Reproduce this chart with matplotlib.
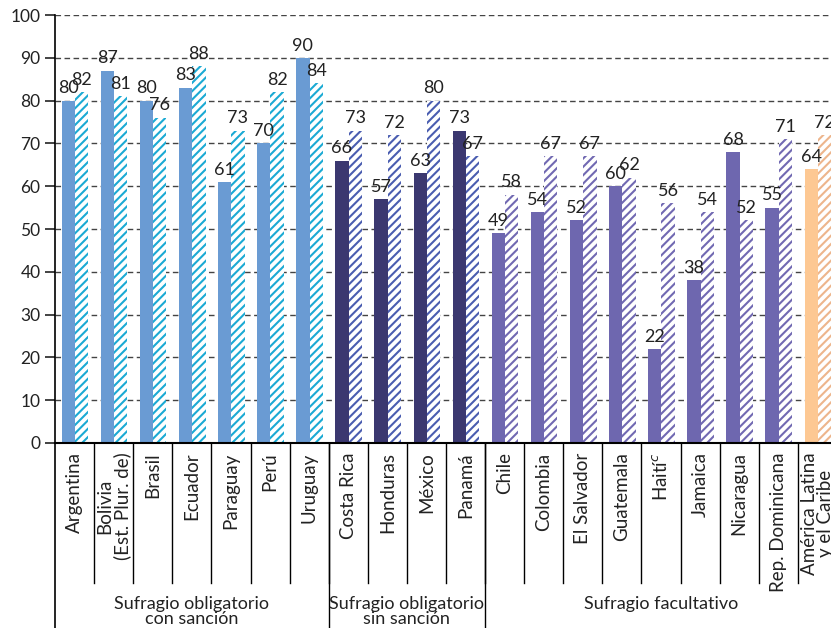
import matplotlib
matplotlib.use("Agg")
import matplotlib.pyplot as plt

plt.rcParams['font.family'] = ['Lato', 'DejaVu Sans']
plt.rcParams['hatch.linewidth'] = 1.5

categories = [
    "Argentina", "Bolivia\n(Est. Plur. de)", "Brasil", "Ecuador", "Paraguay",
    "Perú", "Uruguay", "Costa Rica", "Honduras", "México", "Panamá",
    "Chile", "Colombia", "El Salvador", "Guatemala", "Haití$^{c}$",
    "Jamaica", "Nicaragua", "Rep. Dominicana", "América Latina\ny el Caribe",
]
serie_1 = [80, 87, 80, 83, 61, 70, 90, 66, 57, 63, 73,
           49, 54, 52, 60, 22, 38, 68, 55, 64]
serie_2 = [82, 81, 76, 88, 73, 82, 84, 73, 72, 80, 67,
           58, 67, 67, 62, 56, 54, 52, 71, 72]
# color group of each category: 0 = con sanción, 1 = sin sanción, 2 = facultativo, 3 = region
color_group = [0] * 7 + [1] * 4 + [2] * 8 + [3]

groups = [
    ("Sufragio obligatorio\ncon sanción", 0, 7),
    ("Sufragio obligatorio\nsin sanción", 7, 11),
    ("Sufragio facultativo", 11, 20),
]

solid_colors = ['#6A9BD3', '#3B3870', '#6E67AF', '#FDC893']
hatch_colors = ['#1BAAD4', '#4A5DB0', '#7169B2', '#EDB58C']

fig = plt.figure(figsize=(8.31, 6.28), dpi=100)
ax = fig.add_axes([0.0662, 0.2946, 0.941, 0.6815])

w = 0.34
for i in range(len(categories)):
    g = color_group[i]
    ax.bar(i - 0.16, serie_1[i], width=w, color=solid_colors[g], zorder=2)
    ax.bar(i + 0.18, serie_2[i], width=w, facecolor='white',
           edgecolor=hatch_colors[g], linewidth=0, hatch='////', zorder=2)
    ax.text(i - 0.16, serie_1[i] + 1, str(serie_1[i]), ha='center', va='bottom',
            fontsize=13, color='#222222')
    ax.text(i + 0.18, serie_2[i] + 1, str(serie_2[i]), ha='center', va='bottom',
            fontsize=13, color='#222222')

ax.set_xlim(-0.5, 19.5)
ax.set_ylim(0, 100)
ax.set_yticks(range(0, 101, 10))
ax.tick_params(axis='y', direction='out', length=7, width=1.2, labelsize=12.5,
               colors='#222222')
ax.set_xticks([])
ax.yaxis.grid(True, color='#444444', linestyle=(0, (4, 2.5)), linewidth=1)
ax.set_axisbelow(True)

for side in ['top', 'right']:
    ax.spines[side].set_visible(False)
ax.spines['left'].set_linewidth(1.2)
ax.spines['bottom'].set_linewidth(1.5)

trans = ax.get_xaxis_transform()
sep_low = -0.327
fig_low = -0.45

for i, name in enumerate(categories):
    ax.text(i, -0.022, name, transform=trans, rotation=90, ha='center', va='top',
            multialignment='center', fontsize=13.5, linespacing=0.95,
            color='#222222')

for i in range(len(categories) - 1):
    ax.plot([i + 0.5, i + 0.5], [0, sep_low], transform=trans, color='black',
            linewidth=1, clip_on=False)

ax.plot([-0.5, -0.5], [0, fig_low], transform=trans, color='black',
        linewidth=1.2, clip_on=False)
for name, start, end in groups:
    ax.text((start + end - 1) / 2, -0.357, name, transform=trans, ha='center',
            va='top', fontsize=13, linespacing=0.95, color='#222222')
    if start > 0:
        ax.plot([start - 0.5, start - 0.5], [0, fig_low], transform=trans,
                color='black', linewidth=1, clip_on=False)

fig.savefig('out.png', dpi=100)
